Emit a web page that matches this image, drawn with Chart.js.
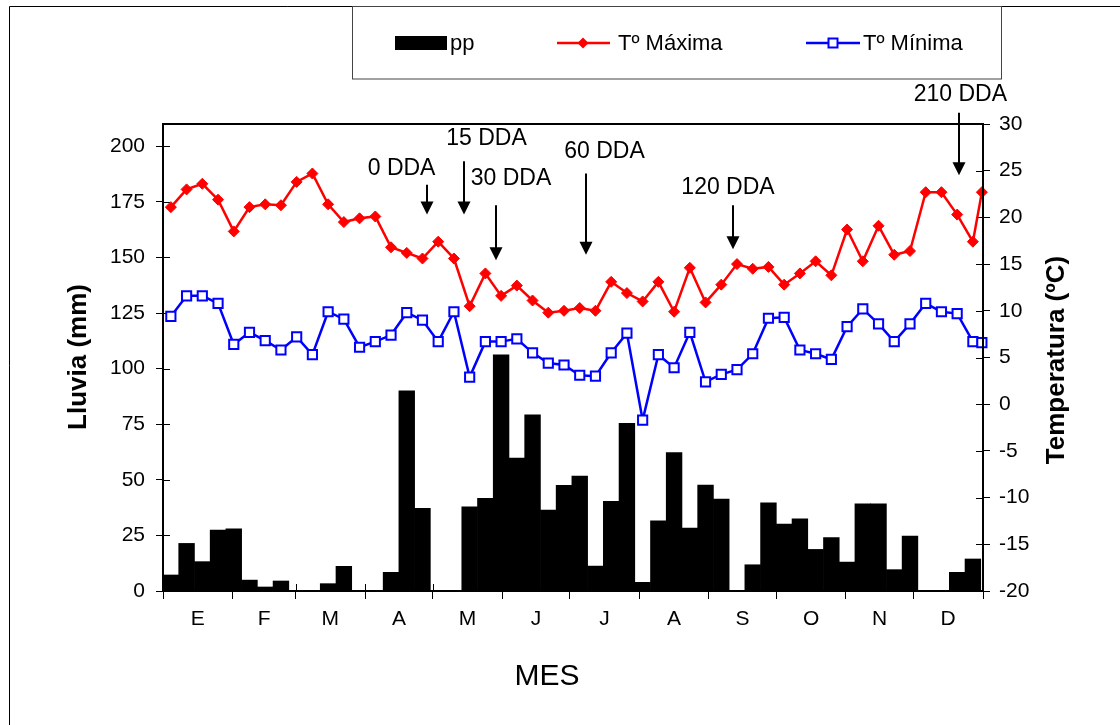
<!DOCTYPE html>
<html>
<head>
<meta charset="utf-8">
<script src="https://cdn.jsdelivr.net/npm/chart.js@4.4.1/dist/chart.umd.min.js"></script>
<style>
html, body { margin: 0; padding: 0; background: #fff; }
</style>
</head>
<body>
<canvas id="grafico" width="1120" height="725"></canvas>
<script>
// meses del eje x
var meses = ["E", "F", "M", "A", "M", "J", "J", "A", "S", "O", "N", "D"];
var diasMes = [31, 28, 31, 30, 31, 30, 31, 31, 30, 31, 30, 31];

// lluvia semanal (mm), 52 semanas
var lluvia = [7.2, 21.4, 13.2, 27.4, 28.0, 4.9, 1.8, 4.5, 0, 0, 3.3, 11.1, 0, 0, 8.4, 90, 37.2, 0, 0, 37.9,
              41.7, 106.2, 59.8, 79.2, 36.4, 47.5, 51.7, 11.2, 40.3, 75.4, 3.9, 31.5, 62.3, 28.3, 47.6, 41.3,
              0, 11.8, 39.6, 30.1, 32.5, 18.7, 24, 13, 39.2, 39.2, 9.6, 24.7, 0, 0, 8.4, 14.4];
var ticksLluvia = [0, 25, 50, 75, 100, 125, 150, 175, 200];

// temperaturas semanales (ºC), 53 semanas
var tMax = [21.1, 23.0, 23.6, 21.9, 18.5, 21.1, 21.4, 21.3, 23.8, 24.7, 21.4, 19.5, 19.9, 20.1, 16.8, 16.2,
            15.6, 17.4, 15.6, 10.5, 14.0, 11.6, 12.7, 11.1, 9.8, 10.0, 10.3, 10.0, 13.1, 11.9, 11.0, 13.1,
            9.9, 14.6, 10.9, 12.8, 15.0, 14.5, 14.7, 12.8, 14.0, 15.3, 13.8, 18.7, 15.3, 19.1, 16.0, 16.4,
            22.7, 22.7, 20.3, 17.4, 22.7];
var tMin = [9.4, 11.6, 11.6, 10.8, 6.4, 7.7, 6.8, 5.8, 7.2, 5.3, 9.9, 9.1, 6.1, 6.7, 7.4, 9.8,
            9.0, 6.7, 9.9, 2.9, 6.7, 6.7, 7.0, 5.5, 4.4, 4.2, 3.1, 3.0, 5.5, 7.6, -1.7, 5.3,
            3.9, 7.7, 2.4, 3.2, 3.7, 5.4, 9.2, 9.3, 5.8, 5.4, 4.8, 8.3, 10.2, 8.6, 6.7, 8.6,
            10.8, 9.9, 9.7, 6.7, 6.6];

// flechas de dias despues de ... (dia del año, ºC)
var flechas = [
    {texto: "0 DDA",   dia: 117.3, desde: 23.5, hasta: 20.3, tx: 106.2, ty: 25.2},
    {texto: "15 DDA",  dia: 134.1, desde: 26.0, hasta: 20.3, tx: 144.0, ty: 28.4},
    {texto: "30 DDA",  dia: 148.1, desde: 21.3, hasta: 15.4, tx: 154.9, ty: 24.2},
    {texto: "60 DDA",  dia: 188.3, desde: 24.7, hasta: 16.0, tx: 196.5, ty: 27.0},
    {texto: "120 DDA", dia: 253.9, desde: 21.3, hasta: 16.6, tx: 251.5, ty: 23.2},
    {texto: "210 DDA", dia: 354.1, desde: 31.2, hasta: 24.5, tx: 354.9, ty: 33.1}
];

// limites de cada mes en dias
var limites = [0];
diasMes.forEach(function (d) { limites.push(limites[limites.length - 1] + d); });

// centro de cada semana (la ultima semana es corta)
function centroSemana(i) {
    var ini = 7 * i;
    return (ini + Math.min(ini + 7, 365)) / 2;
}

var fuente = "'Liberation Sans', Arial, sans-serif";

var extras = {
    id: "extras",
    beforeDraw: function (chart) {
        var c = chart.ctx;
        c.save();
        c.fillStyle = "#fff";
        c.fillRect(0, 0, chart.width, chart.height);
        c.strokeStyle = "#000";
        c.lineWidth = 1;
        c.beginPath();
        c.moveTo(9.5, chart.height);
        c.lineTo(9.5, 6.5);
        c.lineTo(chart.width, 6.5);
        c.stroke();
        c.restore();
    },
    beforeDatasetsDraw: function (chart) {
        // parte interior de las marcas de los ejes
        var c = chart.ctx, a = chart.chartArea, s = chart.scales;
        c.save();
        c.strokeStyle = "#000";
        c.lineWidth = 1;
        c.beginPath();
        s.y.ticks.forEach(function (t) {
            var py = Math.round(s.y.getPixelForValue(t.value)) + 0.5;
            c.moveTo(a.left, py); c.lineTo(a.left + 7, py);
        });
        s.y1.ticks.forEach(function (t) {
            var py = Math.round(s.y1.getPixelForValue(t.value)) + 0.5;
            c.moveTo(a.right - 7, py); c.lineTo(a.right, py);
        });
        limites.forEach(function (d) {
            var px = Math.round(s.x.getPixelForValue(d)) + 0.5;
            c.moveTo(px, a.bottom - 7); c.lineTo(px, a.bottom);
        });
        c.stroke();
        c.restore();
    },
    afterDatasetsDraw: function (chart) {
        var c = chart.ctx, a = chart.chartArea, s = chart.scales;
        c.save();
        // marco del grafico
        c.strokeStyle = "#000";
        c.lineWidth = 2;
        c.strokeRect(a.left, a.top, a.right - a.left, a.bottom - a.top);

        // flechas
        c.fillStyle = "#000";
        flechas.forEach(function (f) {
            var x = Math.round(s.x.getPixelForValue(f.dia));
            var y0 = s.y1.getPixelForValue(f.desde), y1 = s.y1.getPixelForValue(f.hasta);
            c.lineWidth = 2;
            c.beginPath();
            c.moveTo(x, y0); c.lineTo(x, y1 - 10);
            c.stroke();
            c.beginPath();
            c.moveTo(x - 6.5, y1 - 13); c.lineTo(x + 6.5, y1 - 13); c.lineTo(x, y1);
            c.closePath();
            c.fill();
            c.font = "23px " + fuente;
            c.textAlign = "center";
            c.textBaseline = "middle";
            c.fillText(f.texto, s.x.getPixelForValue(f.tx), s.y1.getPixelForValue(f.ty));
        });

        // titulos de ejes
        c.font = "bold 26px " + fuente;
        c.textAlign = "center";
        c.textBaseline = "middle";
        c.save(); c.translate(79, 357); c.rotate(-Math.PI / 2); c.fillText("Lluvia (mm)", 0, 0); c.restore();
        c.save(); c.translate(1057, 360); c.rotate(-Math.PI / 2); c.fillText("Temperatura (ºC)", 0, 0); c.restore();
        c.font = "30px " + fuente;
        c.fillText("MES", 547, 677);

        // leyenda
        var ds = chart.data.datasets;
        c.lineWidth = 1;
        c.strokeStyle = "#444";
        c.strokeRect(352.5, 6.5, 649, 72.5);
        c.font = "22px " + fuente;
        c.textAlign = "left";
        c.fillStyle = ds[2].backgroundColor;
        c.fillRect(395, 36, 52, 14);
        c.fillStyle = "#000";
        c.fillText(ds[2].label, 450, 44);

        c.strokeStyle = ds[0].borderColor; c.lineWidth = 2.5;
        c.beginPath(); c.moveTo(557, 43); c.lineTo(610, 43); c.stroke();
        c.fillStyle = ds[0].borderColor;
        c.beginPath(); c.moveTo(583, 37.5); c.lineTo(588.5, 43); c.lineTo(583, 48.5); c.lineTo(577.5, 43); c.closePath(); c.fill();
        c.fillStyle = "#000";
        c.fillText(ds[0].label, 618, 44);

        c.strokeStyle = ds[1].borderColor; c.lineWidth = 2.5;
        c.beginPath(); c.moveTo(806, 43); c.lineTo(860, 43); c.stroke();
        c.lineWidth = 2;
        c.fillStyle = "#fff";
        c.fillRect(828.5, 38.5, 9, 9);
        c.strokeRect(828.5, 38.5, 9, 9);
        c.fillStyle = "#000";
        c.fillText(ds[1].label, 863, 44);
        c.restore();
    }
};

var fuenteTicks = {family: fuente, size: 21};

new Chart(document.getElementById("grafico"), {
    type: "bar",
    data: {
        datasets: [
            {
                type: "line",
                label: "Tº Máxima",
                data: tMax.map(function (v, i) { return {x: centroSemana(i), y: v}; }),
                yAxisID: "y1",
                borderColor: "#ff0000",
                backgroundColor: "#ff0000",
                borderWidth: 2.5,
                pointStyle: "rectRot",
                pointRadius: 5.5,
                pointBorderWidth: 1,
                tension: 0,
                clip: false,
                order: 1
            },
            {
                type: "line",
                label: "Tº Mínima",
                data: tMin.map(function (v, i) { return {x: centroSemana(i), y: v}; }),
                yAxisID: "y1",
                borderColor: "#0000ff",
                backgroundColor: "#ffffff",
                pointBackgroundColor: "#ffffff",
                borderWidth: 2.5,
                pointStyle: "rect",
                pointRadius: 6.5,
                pointBorderWidth: 2,
                tension: 0,
                clip: false,
                order: 2
            },
            {
                type: "bar",
                label: "pp",
                data: lluvia.map(function (v, i) { return {x: centroSemana(i), y: v}; }),
                yAxisID: "y",
                backgroundColor: "#000000",
                borderWidth: 0,
                barPercentage: 1,
                categoryPercentage: 1,
                order: 3
            }
        ]
    },
    options: {
        responsive: false,
        animation: false,
        layout: {padding: {top: 124, left: 0, right: 0, bottom: 0}},
        plugins: {
            legend: {display: false},
            tooltip: {enabled: false}
        },
        scales: {
            x: {
                type: "linear",
                min: 0,
                max: 365,
                offset: false,
                afterBuildTicks: function (scale) {
                    var t = [];
                    for (var i = 0; i < limites.length; i++) {
                        t.push({value: limites[i]});
                        if (i < meses.length) t.push({value: (limites[i] + limites[i + 1]) / 2});
                    }
                    scale.ticks = t;
                },
                afterFit: function (scale) { scale.height = 134; },
                ticks: {
                    autoSkip: false,
                    maxRotation: 0,
                    padding: 8,
                    color: "#000",
                    font: fuenteTicks,
                    callback: function (v, i) { return i % 2 ? meses[(i - 1) / 2] : ""; }
                },
                grid: {
                    drawOnChartArea: false,
                    offset: false,
                    tickLength: 8,
                    tickColor: function (ctx) { return ctx.index % 2 ? "rgba(0,0,0,0)" : "#000"; }
                },
                border: {display: false}
            },
            y: {
                position: "left",
                min: 0,
                max: 210,
                afterBuildTicks: function (scale) {
                    scale.ticks = ticksLluvia.map(function (v) { return {value: v}; });
                },
                afterFit: function (scale) { scale.width = 163; },
                ticks: {padding: 11, color: "#000", font: fuenteTicks},
                grid: {drawOnChartArea: false, tickLength: 7, tickColor: "#000"},
                border: {display: false}
            },
            y1: {
                position: "right",
                min: -20,
                max: 30,
                afterFit: function (scale) { scale.width = 137; },
                ticks: {stepSize: 5, padding: 9, color: "#000", font: fuenteTicks},
                grid: {drawOnChartArea: false, tickLength: 7, tickColor: "#000"},
                border: {display: false}
            }
        }
    },
    plugins: [extras]
});
</script>
</body>
</html>
